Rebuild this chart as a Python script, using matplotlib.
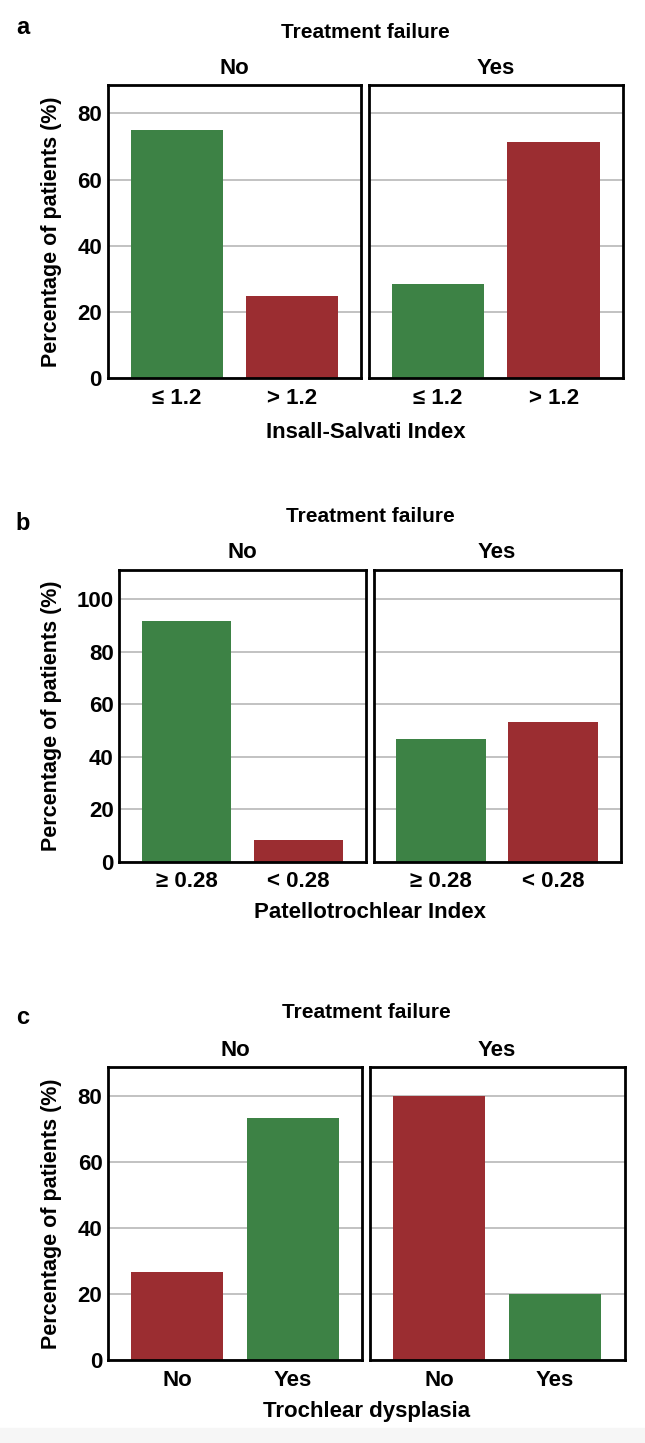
import numpy as np
import matplotlib.pyplot as plt
from matplotlib.patches import Rectangle

# ---------------------------------------------------------------
# Data (percentage of patients)
# ---------------------------------------------------------------
facets = ["No", "Yes"]

a_cats = ["≤ 1.2", "> 1.2"]
a_no = [75.0, 25.0]
a_yes = [28.6, 71.4]

b_cats = ["≥ 0.28", "< 0.28"]
b_no = [91.7, 8.3]
b_yes = [46.7, 53.3]

c_cats = ["No", "Yes"]
c_no = [26.7, 73.3]
c_yes = [80.0, 20.0]

GREEN = "#3d8245"
RED = "#9b2d31"

plt.rcParams["font.family"] = ["Liberation Sans", "DejaVu Sans"]
plt.rcParams["font.weight"] = "bold"

W, H = 645, 1443
fig = plt.figure(figsize=(W / 100, H / 100), dpi=100)
fig.patches.append(Rectangle((0, 0), 1, 15 / H, transform=fig.transFigure,
                             color="#f6f6f6", zorder=-1))


def px_axes(x0, x1, y0, y1):
    return fig.add_axes([x0 / W, 1 - y1 / H, (x1 - x0) / W, (y1 - y0) / H])


def fx(x):
    return x / W


def fy(y):
    return 1 - y / H


def draw_facet(ax, cats, vals, colors, ymax, yticks, show_y):
    x = np.arange(len(cats))
    ax.bar(x, vals, width=0.8, color=colors, zorder=2)
    ax.set_xlim(-0.6, 1.6)
    ax.set_ylim(0, ymax)
    ax.set_yticks(yticks)
    ax.set_xticks(x, cats)
    ax.yaxis.grid(True, color="#bdbdbd", linewidth=1.3)
    ax.set_axisbelow(True)
    ax.tick_params(length=0, labelsize=16, pad=4)
    ax.tick_params(axis="x", pad=7)
    for s in ax.spines.values():
        s.set_linewidth(2)
        s.set_color("black")
    if not show_y:
        ax.tick_params(labelleft=False)


panels = [
    # letter, cats, no, yes, colors, ymax, ticks, xlabel, boxes, y-range, text y's
    ("a", a_cats, a_no, a_yes, [GREEN, RED], 88.6, [0, 20, 40, 60, 80],
     "Insall-Salvati Index", [(107.5, 361.3), (368.5, 623.3)], (85, 378.3),
     dict(letter=28, title=32, facet=69, xlabel=432)),
    ("b", b_cats, b_no, b_yes, [GREEN, RED], 111.2, [0, 20, 40, 60, 80, 100],
     "Patellotrochlear Index", [(119.3, 365.8), (373.7, 620.6)], (570, 861.7),
     dict(letter=523, title=516, facet=553, xlabel=912)),
    ("c", c_cats, c_no, c_yes, [RED, GREEN], 88.9, [0, 20, 40, 60, 80],
     "Trochlear dysplasia", [(108, 362), (369.5, 624.5)], (1066.7, 1360),
     dict(letter=1018, title=1012, facet=1050, xlabel=1411)),
]

for letter, cats, no_vals, yes_vals, colors, ymax, ticks, xlabel, boxes, yr, ty in panels:
    for i, (vals, (x0, x1)) in enumerate(zip([no_vals, yes_vals], boxes)):
        ax = px_axes(x0, x1, yr[0], yr[1])
        draw_facet(ax, cats, vals, colors, ymax, ticks, show_y=(i == 0))
        fig.text(fx((x0 + x1) / 2), fy(ty["facet"]), facets[i], ha="center", va="center",
                 fontsize=16, fontweight="bold")
    xmid = (boxes[0][0] + boxes[1][1]) / 2
    fig.text(fx(23), fy(ty["letter"]), letter, ha="center", va="center",
             fontsize=17, fontweight="bold")
    fig.text(fx(xmid), fy(ty["title"]), "Treatment failure", ha="center", va="center",
             fontsize=15, fontweight="bold")
    fig.text(fx(xmid), fy(ty["xlabel"]), xlabel, ha="center", va="center",
             fontsize=16, fontweight="bold")
    fig.text(fx(52), fy((yr[0] + yr[1]) / 2), "Percentage of patients (%)", rotation=90,
             ha="center", va="center", fontsize=15.5, fontweight="bold")

fig.savefig("out.png", dpi=100)
